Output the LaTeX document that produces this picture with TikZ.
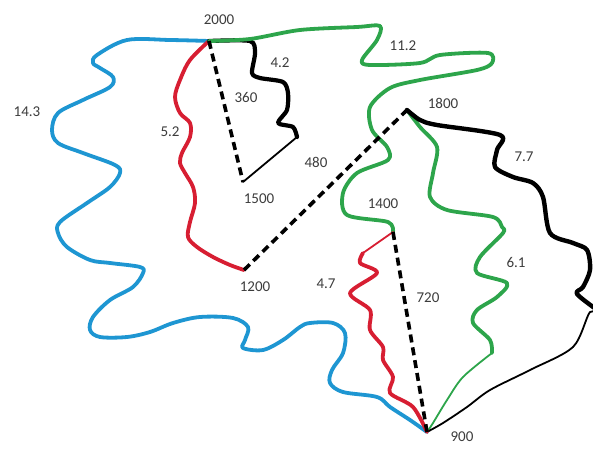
\documentclass[tikz,border=0pt]{standalone}
\usepackage{fontspec}
\setmainfont{Carlito}
\definecolor{rvblue}{RGB}{30,150,210}
\definecolor{rvred}{RGB}{215,30,50}
\definecolor{rvgreen}{RGB}{45,165,75}
\definecolor{lbltext}{RGB}{60,60,60}
\begin{document}
\begin{tikzpicture}[x=1pt,y=-1pt,
  lbl/.style={font=\fontsize{15}{15}\selectfont, text=lbltext, inner sep=0pt},
  riv/.style={line width=3.8pt, line cap=round, line join=round},
  thinriv/.style={line width=1.8pt, line cap=round, line join=round},
  dashlink/.style={line width=3.6pt, dash pattern=on 8pt off 5pt, black}]
\clip (0,0) rectangle (593,449);
% junctions
\coordinate (A) at (209,41);   % 2000
\coordinate (B) at (243,182);  % 1500
\coordinate (C) at (407,110);  % 1800
\coordinate (D) at (244,270);  % 1200
\coordinate (E) at (393,232);  % 1400
\coordinate (F) at (427,432);  % 900
% blue 14.3
\draw[riv, rvblue] plot[smooth, tension=0.55] coordinates {(A) (170,40) (127,40) (97,55) (93,63) (100,68) (113,77) (110,87) (83,100) (58,113) (52,130) (58,143) (83,153) (115,165) (120,173) (110,187) (87,203) (60,222) (58,233) (67,247) (90,260) (110,263) (140,267) (143,273) (133,287) (110,300) (93,317) (90,330) (100,337) (127,337) (150,332) (173,323) (200,317) (233,318) (248,327) (245,340) (243,348) (263,350) (283,340) (300,327) (310,323) (333,323) (345,333) (343,353) (332,370) (330,383) (343,392) (377,397) (390,407) (410,420) (F)};
% red 5.2
\draw[riv, rvred] plot[smooth, tension=0.55] coordinates {(A) (190,60) (180,80) (175,97) (180,113) (190,123) (190,137) (182,153) (180,163) (185,173) (193,187) (195,203) (190,222) (188,237) (197,247) (213,257) (230,265) (D)};
% black 4.2
\draw[riv, black, line width=4.2pt] plot[smooth, tension=0.45] coordinates {(A) (250,41) (255,53) (252,73) (260,78) (283,82) (288,93) (287,110) (278,123) (293,127) (297,137)};
\coordinate (K) at (297,137);
\draw[thinriv, black] (K) -- (B);
% green 11.2
\draw[riv, rvgreen] plot[smooth, tension=0.5] coordinates {(A) (250,39) (300,30) (357,27) (380,26) (377,40) (362,60) (370,65) (420,63) (440,55) (488,53) (492,63) (477,70) (420,80) (390,88) (370,107) (372,130) (387,147) (388,160) (357,173) (343,193) (347,215) (388,222) (E)};
% green 6.1
\draw[riv, rvgreen] plot[smooth, tension=0.5] coordinates {(C) (420,127) (437,147) (433,173) (430,197) (447,210) (493,217) (502,227) (503,233) (480,257) (477,273) (507,283) (497,297) (477,310) (473,323) (490,340) (492,353)};
\coordinate (G) at (492,353);
\draw[thinriv, rvgreen] plot[smooth, tension=0.5] coordinates {(G) (463,377) (447,400) (433,423) (F)};
% black 7.7
\draw[riv, black, line width=4.4pt] plot[smooth, tension=0.5] coordinates {(C) (420,120) (437,125) (500,135) (497,150) (495,167) (513,177) (533,183) (543,197) (550,233) (573,243) (587,250) (590,270) (583,287) (577,294) (600,312)};
\coordinate (H) at (600,318);
\draw[thinriv, black] plot[smooth, tension=0.5] coordinates {(H) (590,312) (573,347) (530,370) (490,390) (467,407) (443,423) (F)};
% red 4.7
\draw[thinriv, rvred] (E) -- (363,253);
\coordinate (R) at (363,253);
\draw[riv, rvred] plot[smooth, tension=0.5] coordinates {(R) (360,263) (377,273) (350,293) (370,310) (370,330) (383,347) (383,360) (393,377) (390,393) (413,407) (F)};
% dashed links
\draw[dashlink] (A) -- (B);
\draw[dashlink] (D) -- (C);
\draw[dashlink] (E) -- (F);
% labels
\node[lbl] (l2000) at (219,20) {2000};
\node[lbl] (l1500) at (259,199) {1500};
\node[lbl] (l1800) at (443,103) {1800};
\node[lbl] (l1200) at (255,287) {1200};
\node[lbl] (l1400) at (383,204) {1400};
\node[lbl] (l900) at (462,437) {900};
\node[lbl] (l143) at (27,112) {14.3};
\node[lbl] (l52) at (170,132) {5.2};
\node[lbl] (l42) at (280,63) {4.2};
\node[lbl] (l360) at (246,97) {360};
\node[lbl] (l480) at (316,162) {480};
\node[lbl] (l112) at (403,46) {11.2};
\node[lbl] (l77) at (524,157) {7.7};
\node[lbl] (l61) at (516,262) {6.1};
\node[lbl] (l47) at (326,284) {4.7};
\node[lbl] (l720) at (428,298) {720};
\end{tikzpicture}
\end{document}
